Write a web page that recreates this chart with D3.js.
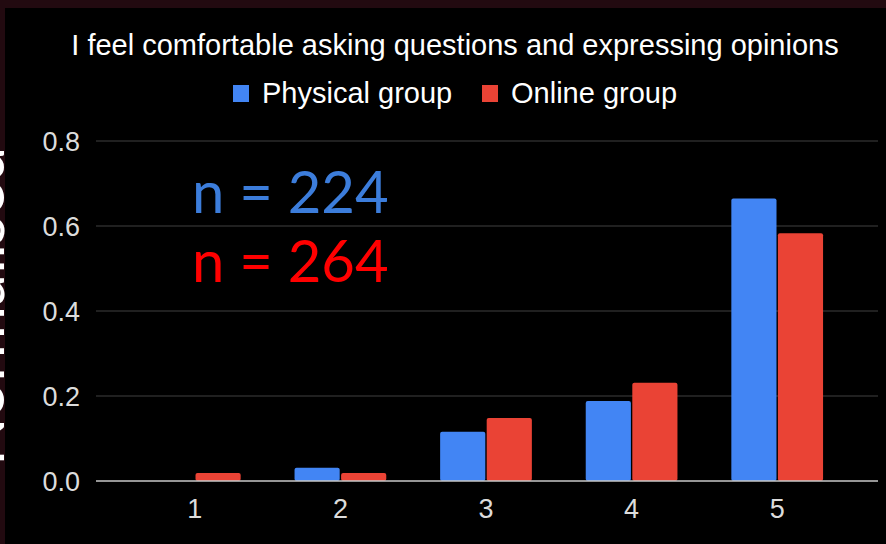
<!DOCTYPE html>
<html>
<head>
<meta charset="utf-8">
<script src="https://cdn.jsdelivr.net/npm/d3@7"></script>
<style>
  body { margin: 0; background: #000; }
  svg { display: block; }
</style>
</head>
<body>
<script>
// chart data
var categories = ["1", "2", "3", "4", "5"];
var seriesNames = ["Physical group", "Online group"];
var physical = [0, 0.031, 0.116, 0.188, 0.665];
var online = [0.019, 0.019, 0.148, 0.231, 0.583];
var yTicks = [0, 0.2, 0.4, 0.6, 0.8];
var counts = ["n = 224", "n = 264"];

var width = 886, height = 544;
var colors = ["#4285f4", "#ea4335"];
var font = "Arial, 'Liberation Sans', sans-serif";

var svg = d3.select("body").append("svg")
    .attr("width", width)
    .attr("height", height);

// slide background behind the chart
svg.append("rect")
    .attr("width", width).attr("height", height)
    .attr("fill", "#220a10");

// cut off axis title from the slide
svg.append("text")
    .attr("transform", "translate(4,466) rotate(-90)")
    .attr("fill", "#fff")
    .style("font-family", "Lato, sans-serif")
    .style("font-size", "64px")
    .text("Normalised");

// black chart panel
svg.append("rect")
    .attr("x", 5).attr("y", 8)
    .attr("width", width - 5).attr("height", height - 8)
    .attr("fill", "#000");

var y = d3.scaleLinear().domain([0, 0.8]).range([481, 141]);
var x = d3.scaleBand().domain(categories).range([122, 850]).paddingInner(0.37).paddingOuter(0.185);
var x1 = d3.scaleBand().domain(seriesNames).range([0, x.bandwidth()]).paddingInner(0.03);

// gridlines
svg.append("g").selectAll("line")
    .data(yTicks.filter(function(d) { return d > 0; }))
    .enter().append("line")
    .attr("x1", 96).attr("x2", 878)
    .attr("y1", function(d) { return y(d); })
    .attr("y2", function(d) { return y(d); })
    .attr("stroke", "#404040")
    .attr("stroke-width", 1);

// y tick labels
svg.append("g").selectAll("text")
    .data(yTicks)
    .enter().append("text")
    .attr("x", 80)
    .attr("y", function(d) { return y(d); })
    .attr("dy", "0.36em")
    .attr("text-anchor", "end")
    .attr("fill", "#dcdcdc")
    .style("font-family", font)
    .style("font-size", "27px")
    .text(function(d) { return d3.format(".1f")(d); });

// bars
var rows = categories.map(function(c, i) {
    return { cat: c, vals: [physical[i], online[i]] };
});

var groups = svg.append("g").selectAll("g")
    .data(rows)
    .enter().append("g")
    .attr("transform", function(d) { return "translate(" + x(d.cat) + ",0)"; });

groups.selectAll("rect")
    .data(function(d) { return d.vals.map(function(v, j) { return { name: seriesNames[j], v: v, j: j }; }); })
    .enter().append("rect")
    .filter(function(d) { return d.v > 0; })
    .attr("x", function(d) { return x1(d.name); })
    .attr("y", function(d) { return y(d.v); })
    .attr("width", x1.bandwidth())
    .attr("height", function(d) { return y(0) - y(d.v); })
    .attr("rx", 2)
    .attr("fill", function(d) { return colors[d.j]; });

// baseline
svg.append("line")
    .attr("x1", 96).attr("x2", 878)
    .attr("y1", y(0)).attr("y2", y(0))
    .attr("stroke", "#c8c8c8")
    .attr("stroke-width", 1.5);

// x labels
svg.append("g").selectAll("text")
    .data(categories)
    .enter().append("text")
    .attr("x", function(d) { return x(d) + x.bandwidth() / 2; })
    .attr("y", 518)
    .attr("text-anchor", "middle")
    .attr("fill", "#dcdcdc")
    .style("font-family", font)
    .style("font-size", "27px")
    .text(function(d) { return d; });

// title
svg.append("text")
    .attr("x", 455).attr("y", 55)
    .attr("text-anchor", "middle")
    .attr("fill", "#fff")
    .style("font-family", font)
    .style("font-size", "29px")
    .text("I feel comfortable asking questions and expressing opinions");

// legend
var legendX = [233, 482];
var legend = svg.append("g").selectAll("g")
    .data(seriesNames)
    .enter().append("g")
    .attr("transform", function(d, i) { return "translate(" + legendX[i] + ",85)"; });
legend.append("rect")
    .attr("width", 16).attr("height", 17)
    .attr("fill", function(d, i) { return colors[i]; });
legend.append("text")
    .attr("x", 29).attr("y", 18)
    .attr("fill", "#fff")
    .style("font-family", font)
    .style("font-size", "29px")
    .text(function(d) { return d; });

// sample sizes
var countColors = ["#3c7ddb", "#ff0000"];
svg.append("g").selectAll("text")
    .data(counts)
    .enter().append("text")
    .attr("x", 192)
    .attr("y", function(d, i) { return [213, 282][i]; })
    .attr("fill", function(d, i) { return countColors[i]; })
    .style("font-family", "Lato, sans-serif")
    .style("font-size", "58px")
    .text(function(d) { return d; });
</script>
</body>
</html>
